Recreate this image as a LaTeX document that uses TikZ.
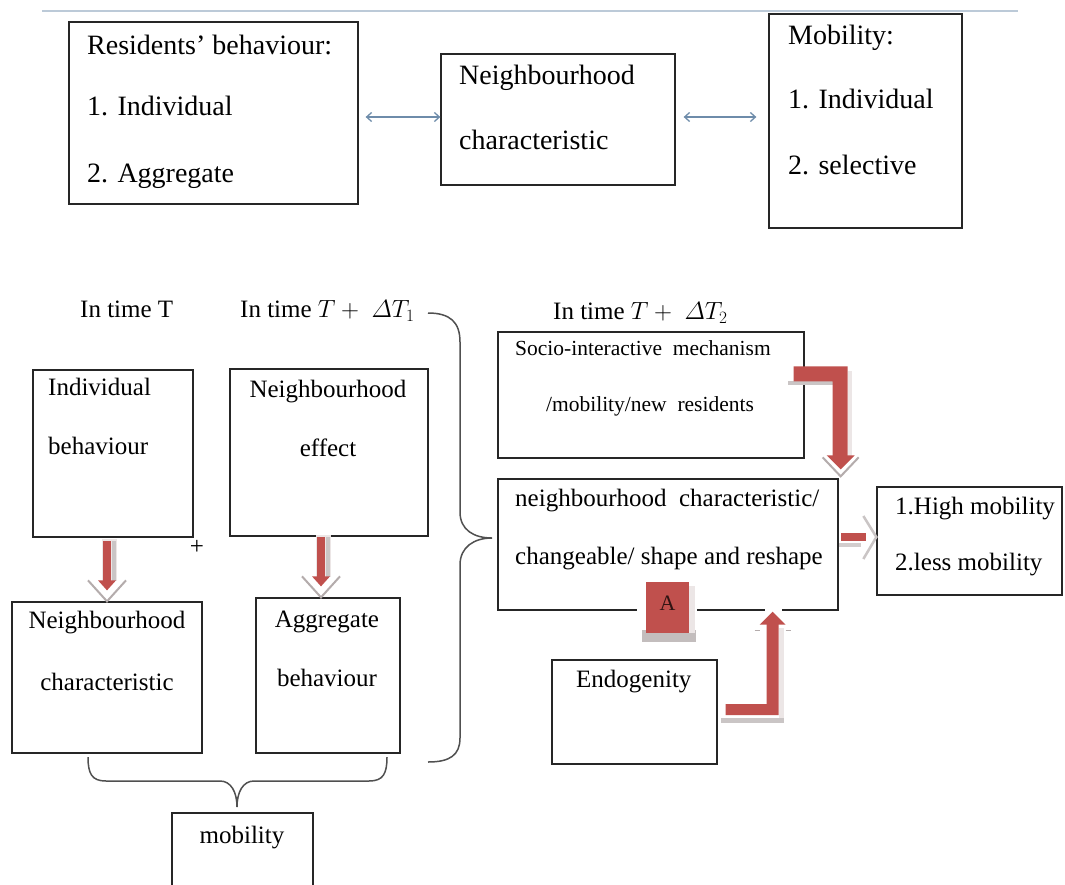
\documentclass[tikz,border=0pt]{standalone}
\usepackage{amsmath}
\usepackage{fontspec}
\setmainfont{Liberation Serif}
\usetikzlibrary{arrows.meta,calc}
\definecolor{ared}{HTML}{C0504D}
\definecolor{ablue}{HTML}{6E8CAA}
\definecolor{rulec}{HTML}{BCCAD8}
\definecolor{shd}{HTML}{B4ACAC}
\definecolor{halo}{HTML}{ECE6E6}
\definecolor{bracec}{HTML}{505050}
\tikzset{
  pics/dnarrow/.style={code={
    \fill[halo] (-5,-62) rectangle (10,-20);
    \fill[shd!70] (5,-60) rectangle (9,-20);
    \fill[ared] (-4,-60) rectangle (4,-20);
    \draw[shd, line width=2pt] (-19,-21) -- (0,0) -- (19,-21);
    \fill[ared] (-9,-21) -- (9,-21) -- (0,-11) -- cycle;
  }}
}
\begin{document}
\begin{tikzpicture}[x=1pt,y=-1pt,
  box/.style={draw=black!85, line width=1.3pt, inner sep=0pt, rectangle},
  big/.style={inner sep=0pt, font=\fontsize{28}{30}\selectfont},
  mid/.style={inner sep=0pt, font=\fontsize{25}{27}\selectfont},
  small/.style={inner sep=0pt, font=\fontsize{21.5}{23}\selectfont},
  dbl/.style={draw=ablue, line width=1.3pt, {Straight Barb[length=5pt,width=9pt]}-{Straight Barb[length=5pt,width=9pt]}},
  brc/.style={draw=bracec, line width=1.5pt}
]
\useasboundingbox (0,0) rectangle (1065,884);
\clip (0,0) rectangle (1065,884);
\fill[white] (0,0) rectangle (1065,884);

% top rule
\coordinate (ruleL) at (42,11);
\coordinate (ruleR) at (1018,11);
\draw[rulec, line width=1.6pt] (ruleL) -- (ruleR);

% ---------- top boxes ----------
\node[box, minimum width=289pt, minimum height=182pt] (res) at (213.5,113) {};
\node[big, anchor=mid west] (res1) at (87,52) {Residents’ behaviour:};
\node[big, anchor=mid west] (res2) at (87,113) {1. Individual};
\node[big, anchor=mid west] (res3) at (87,180) {2. Aggregate};

\node[box, minimum width=234pt, minimum height=131pt] (nc) at (558,119.5) {};
\node[big, anchor=mid west] (nc1t) at (459,82) {Neighbourhood};
\node[big, anchor=mid west] (nc2t) at (459,147) {characteristic};

\node[box, minimum width=193pt, minimum height=214pt] (mob) at (865.5,121) {};
\node[big, anchor=mid west] (mob1) at (788,42) {Mobility:};
\node[big, anchor=mid west] (mob2) at (788,106) {1. Individual};
\node[big, anchor=mid west] (mob3) at (788,172) {2. selective};

\draw[dbl] ([xshift=7pt,yshift=2.5pt]res.east |- nc.west) -- ([yshift=2.5pt]nc.west);
\draw[dbl] ([xshift=8pt,yshift=2.5pt]nc.east) -- ([xshift=-12pt,yshift=2.5pt]nc.east -| mob.west);

% ---------- time labels ----------
\node[mid, anchor=mid west] (t0) at (80,315) {In time T};
\node[mid, anchor=mid west] (t1) at (240,315) {In time $T+\;\varDelta T_1$};
\node[mid, anchor=mid west] (t2) at (553,317) {In time $T+\;\varDelta T_2$};

% ---------- lower left boxes ----------
\node[box, minimum width=160pt, minimum height=167pt] (ib) at (113,453.5) {};
\node[mid, anchor=mid west] (ib1) at (48,393) {Individual};
\node[mid, anchor=mid west] (ib2) at (48,452) {behaviour};

\node[box, minimum width=198pt, minimum height=167pt] (ne) at (329,452.5) {};
\node[mid] (ne1) at (328,392) {Neighbourhood};
\node[mid] (ne2) at (328,448) {effect};

\node[mid] (plus) at (197,547) {+};

\node[box, minimum width=190pt, minimum height=151pt] (ncl) at (107,677.5) {};
\node[mid] (ncl1) at (107,623) {Neighbourhood};
\node[mid] (ncl2) at (107,682) {characteristic};

\node[box, minimum width=144pt, minimum height=155pt] (ab) at (328,675.5) {};
\node[mid] (ab1) at (327,622) {Aggregate};
\node[mid] (ab2) at (327,678) {behaviour};

\node[box, minimum width=141pt, minimum height=90pt] (mobl) at (242.5,858) {};
\node[mid] (mobl1) at (242,838) {mobility};

% red down arrows
\pic at ([xshift=0pt]ncl.north) {dnarrow};
\pic at ([xshift=-7pt]ab.north) {dnarrow};

% lower brace
\coordinate (lbL) at (88,757);
\coordinate (lbR) at (387,757);
\coordinate (lbT) at (237,807);
\draw[brc] (lbL) .. controls (88,774) and (92,781) .. (106,781) -- (220,781)
  .. controls (231,781) and (237,792) .. (lbT)
  .. controls (237,792) and (243,781) .. (254,781) -- (369,781)
  .. controls (383,781) and (387,774) .. (lbR);

% big right brace
\coordinate (bbT) at (428,313);
\coordinate (bbB) at (428,762);
\coordinate (bbTip) at (492,538);
\draw[brc] (bbT) .. controls (450,313) and (460,322) .. (460,342) -- (460,512)
  .. controls (460,530) and (474,538) .. (bbTip)
  .. controls (474,538) and (460,547) .. (460,565) -- (460,738)
  .. controls (460,755) and (450,762) .. (bbB);

% ---------- lower right boxes ----------
\node[box, minimum width=306pt, minimum height=126pt] (soc) at (651,395) {};
\node[small, anchor=mid west] (soc1) at (515,353) {Socio-interactive\enspace mechanism};
\node[small] (soc2) at (650,406) {/mobility/new\enspace residents};

\node[box, minimum width=340pt, minimum height=131pt] (nc2) at (668,544.5) {};
\node[mid, anchor=mid west] (nc2a) at (515,504) {neighbourhood\enspace characteristic/};
\node[mid, anchor=mid west] (nc2b) at (515,562) {changeable/ shape and reshape};

\node[box, minimum width=185pt, minimum height=108pt] (hm) at (969.5,541) {};
\node[mid, anchor=mid west] (hm1) at (895,512) {1.High mobility};
\node[mid, anchor=mid west] (hm2) at (895,568) {2.less mobility};

\node[box, minimum width=165pt, minimum height=104pt] (endo) at (634.5,712) {};
\node[mid, anchor=mid west] (endo1) at (576,685) {Endogenity};

% A box
\fill[white] (637,575) rectangle (697,642);
\fill[shd!80] (642,630) rectangle (696,642);
\fill[halo] (689,586) rectangle (695,633);
\node[inner sep=0pt, fill=ared, minimum width=43pt, minimum height=51pt] (A) at (667.5,607.5) {};
\node[inner sep=0pt, font=\fontsize{22}{24}\selectfont, text=black!75!ared] (Atext) at (667.5,603) {A};

% bent arrow: socio -> nc2
\coordinate (s1) at ($(soc.north east)+(-11,35)$);
\coordinate (tipA) at ($(nc2.north east)+(2,-2)$);
\fill[shd!70] ($(s1)+(-6,15)$) rectangle ++(45,4);
\fill[halo] ($(s1)+(54,5)$) rectangle ++(4,86);
\fill[ared] (s1) -- ++(54,0) -- ++(0,91) -- ++(-15,0) -- ++(0,-76) -- ++(-39,0) -- cycle;
\draw[shd, line width=2pt] ($(tipA)+(-18,-19)$) -- (tipA) -- ($(tipA)+(18,-19)$);
\fill[ared] ($(tipA)+(-14,-21)$) -- ($(tipA)+(14,-21)$) -- ($(tipA)+(0,-7)$) -- cycle;

% arrow nc2 -> hm
\coordinate (tipB) at ($(hm.west)+(0,-4)$);
\fill[shd!60] ($(tipB)+(-37,6)$) rectangle ($(tipB)+(-15,10)$);
\fill[ared] ($(tipB)+(-35,-4)$) rectangle ($(tipB)+(-10,4)$);
\draw[shd!70, line width=2.5pt] ($(tipB)+(-13,-21)$) -- (tipB) -- ($(tipB)+(-13,22)$);

% bent arrow: endogenity -> nc2
\coordinate (e1) at ($(endo.east)+(8,-8)$);
\coordinate (tipC) at ($(nc2.south east)+(-66,1)$);
\fill[white] ($(tipC)+(-8,-6)$) rectangle ($(tipC)+(9,6)$);
\fill[shd!70] ($(e1)+(-5,14)$) rectangle ++(63,5);
\fill[halo] ($(e1)+(53,-76)$) rectangle ++(5,90);
\fill[ared] (e1) -- ++(41,0) -- ++(0,-81) -- ++(12,0) -- ++(0,92) -- ++(-53,0) -- cycle;
\fill[ared] ($(tipC)+(-13,13)$) -- ($(tipC)+(13,13)$) -- (tipC) -- cycle;
\draw[shd, line width=1.5pt] ($(tipC)+(-18,19)$) -- ++(5,0);
\draw[shd, line width=1.5pt] ($(tipC)+(13,19)$) -- ++(5,0);
\end{tikzpicture}
\end{document}
